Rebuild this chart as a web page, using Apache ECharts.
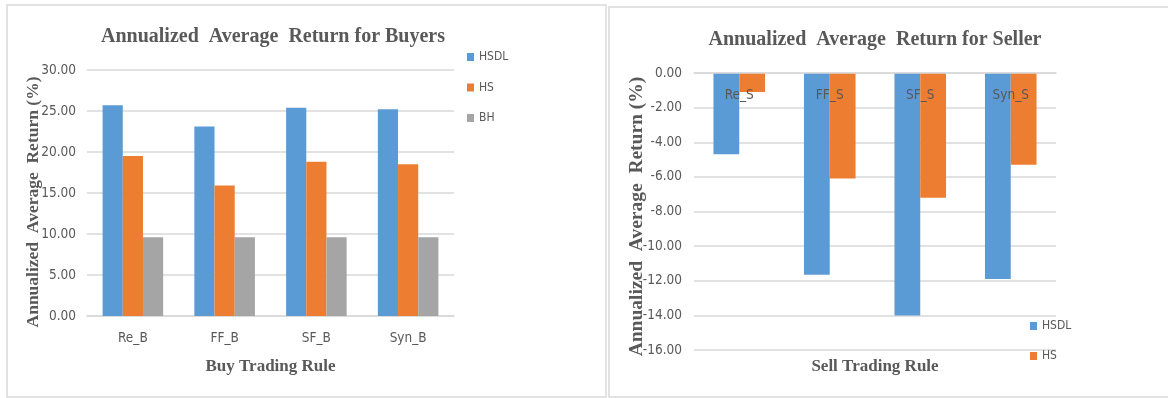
<!DOCTYPE html>
<html>
<head>
<meta charset="utf-8">
<script src="https://cdn.jsdelivr.net/npm/echarts@6/dist/echarts.min.js"></script>
<style>html,body{margin:0;padding:0;background:#fff;}#c{width:1168px;height:398px;}</style>
</head>
<body>
<div id="c"></div>
<script>
// ---- data ----
const buyCategories = ['Re_B', 'FF_B', 'SF_B', 'Syn_B'];
const buyHSDL = [25.7, 23.1, 25.4, 25.2];
const buyHS = [19.5, 15.9, 18.8, 18.5];
const buyBH = [9.6, 9.6, 9.6, 9.6];

const sellCategories = ['Re_S', 'FF_S', 'SF_S', 'Syn_S'];
const sellHSDL = [-4.7, -11.65, -14.0, -11.9];
const sellHS = [-1.1, -6.1, -7.2, -5.3];

const buyTicks = { min: 0, max: 30, interval: 5 };
const sellTicks = { min: -16, max: 0, interval: 2 };

const titles = ['Annualized  Average  Return for Buyers', 'Annualized  Average  Return for Seller'];
const yNames = ['Annualized  Average  Return (%)', 'Annualized  Average  Return (%)'];
const xNames = ['Buy Trading Rule', 'Sell Trading Rule'];

// ---- styling ----
const C_HSDL = '#5b9bd5', C_HS = '#ed7d31', C_BH = '#a5a5a5';
const TXT = '#595959';
const GRIDC = '#d9d9d9';
const SANS = "'DejaVu Sans Condensed', 'Liberation Sans', sans-serif";
const SERIF = "'Liberation Serif', 'DejaVu Serif', serif";

const chart = echarts.init(document.getElementById('c'), null, { renderer: 'canvas' });

const titleStyle = { fontFamily: SERIF, fontWeight: 'bold', fontSize: 20, color: TXT };
const nameStyle = { fontFamily: SERIF, fontWeight: 'bold', fontSize: 17, color: TXT };
const labelStyle = { fontFamily: SANS, fontSize: 13.5, color: TXT };

chart.setOption({
  animation: false,
  backgroundColor: '#fff',
  graphic: [
    { type: 'rect', shape: { x: 7, y: 5, width: 599, height: 392 }, style: { fill: 'none', stroke: '#d9d9d9', lineWidth: 1.5 }, silent: true },
    { type: 'rect', shape: { x: 609, y: 7, width: 580, height: 390 }, style: { fill: 'none', stroke: '#d9d9d9', lineWidth: 1.5 }, silent: true }
  ],
  title: [
    { text: titles[0], left: 268, top: 22, textAlign: 'center', textStyle: titleStyle },
    { text: titles[1], left: 870, top: 25, textAlign: 'center', textStyle: titleStyle }
  ],
  legend: [
    {
      orient: 'vertical', left: 462, top: 45, itemWidth: 7, itemHeight: 8, itemGap: 16.5,
      icon: 'rect', textStyle: { fontFamily: SANS, fontSize: 12, color: TXT, lineHeight: 14 },
      data: ['HSDL', 'HS', 'BH']
    },
    {
      orient: 'vertical', left: 1025, top: 314, itemWidth: 7, itemHeight: 8, itemGap: 16,
      icon: 'rect', textStyle: { fontFamily: SANS, fontSize: 12, color: TXT, lineHeight: 14 },
      data: [{ name: 'HSDL ' }, { name: 'HS ' }]
    }
  ],
  grid: [
    { left: 87, top: 70, width: 367, height: 246 },
    { left: 694, top: 73, width: 362, height: 277 }
  ],
  xAxis: [
    {
      type: 'category', gridIndex: 0, data: buyCategories,
      name: xNames[0], nameLocation: 'middle', nameGap: 42, nameMoveOverlap: false, nameTextStyle: nameStyle,
      axisLine: { lineStyle: { color: GRIDC, width: 1.5 } }, axisTick: { show: false },
      axisLabel: Object.assign({ margin: 15 }, labelStyle)
    },
    {
      type: 'category', gridIndex: 1, data: sellCategories, position: 'top', z: 5,
      axisLine: { onZero: false, lineStyle: { color: GRIDC, width: 1.5 } }, axisTick: { show: false },
      axisLabel: Object.assign({ inside: true, margin: 15 }, labelStyle)
    },
    {
      type: 'category', gridIndex: 1, data: sellCategories, position: 'bottom',
      name: xNames[1], nameLocation: 'middle', nameGap: 8, nameMoveOverlap: false, nameTextStyle: nameStyle,
      axisLine: { show: false, onZero: false }, axisTick: { show: false }, axisLabel: { show: false }
    }
  ],
  yAxis: [
    {
      type: 'value', gridIndex: 0, min: buyTicks.min, max: buyTicks.max, interval: buyTicks.interval,
      name: yNames[0], nameLocation: 'middle', nameGap: 45, nameMoveOverlap: false,
      nameTextStyle: Object.assign({}, nameStyle, { fontSize: 17.5, padding: [0, 18, 0, 0] }),
      axisLine: { show: false }, axisTick: { show: false },
      axisLabel: Object.assign({ margin: 11, formatter: v => v.toFixed(2) }, labelStyle),
      splitLine: { lineStyle: { color: GRIDC, width: 1.5 } }
    },
    {
      type: 'value', gridIndex: 1, min: sellTicks.min, max: sellTicks.max, interval: sellTicks.interval,
      name: yNames[1], nameLocation: 'middle', nameGap: 47, nameMoveOverlap: false,
      nameTextStyle: Object.assign({}, nameStyle, { fontSize: 19.5, padding: [0, 10, 0, 0] }),
      axisLine: { show: false }, axisTick: { show: false },
      axisLabel: Object.assign({ margin: 12, formatter: v => v.toFixed(2) }, labelStyle),
      splitLine: { lineStyle: { color: GRIDC, width: 1.5 } }
    }
  ],
  series: [
    { name: 'HSDL', type: 'bar', xAxisIndex: 0, yAxisIndex: 0, data: buyHSDL, itemStyle: { color: C_HSDL }, barGap: '0%', barCategoryGap: '34%' },
    { name: 'HS', type: 'bar', xAxisIndex: 0, yAxisIndex: 0, data: buyHS, itemStyle: { color: C_HS }, barGap: '0%', barCategoryGap: '34%' },
    { name: 'BH', type: 'bar', xAxisIndex: 0, yAxisIndex: 0, data: buyBH, itemStyle: { color: C_BH }, barGap: '0%', barCategoryGap: '34%' },
    { name: 'HSDL ', type: 'bar', xAxisIndex: 1, yAxisIndex: 1, data: sellHSDL, itemStyle: { color: C_HSDL }, barGap: '0%', barCategoryGap: '43%' },
    { name: 'HS ', type: 'bar', xAxisIndex: 1, yAxisIndex: 1, data: sellHS, itemStyle: { color: C_HS }, barGap: '0%', barCategoryGap: '43%' }
  ]
});
</script>
</body>
</html>
